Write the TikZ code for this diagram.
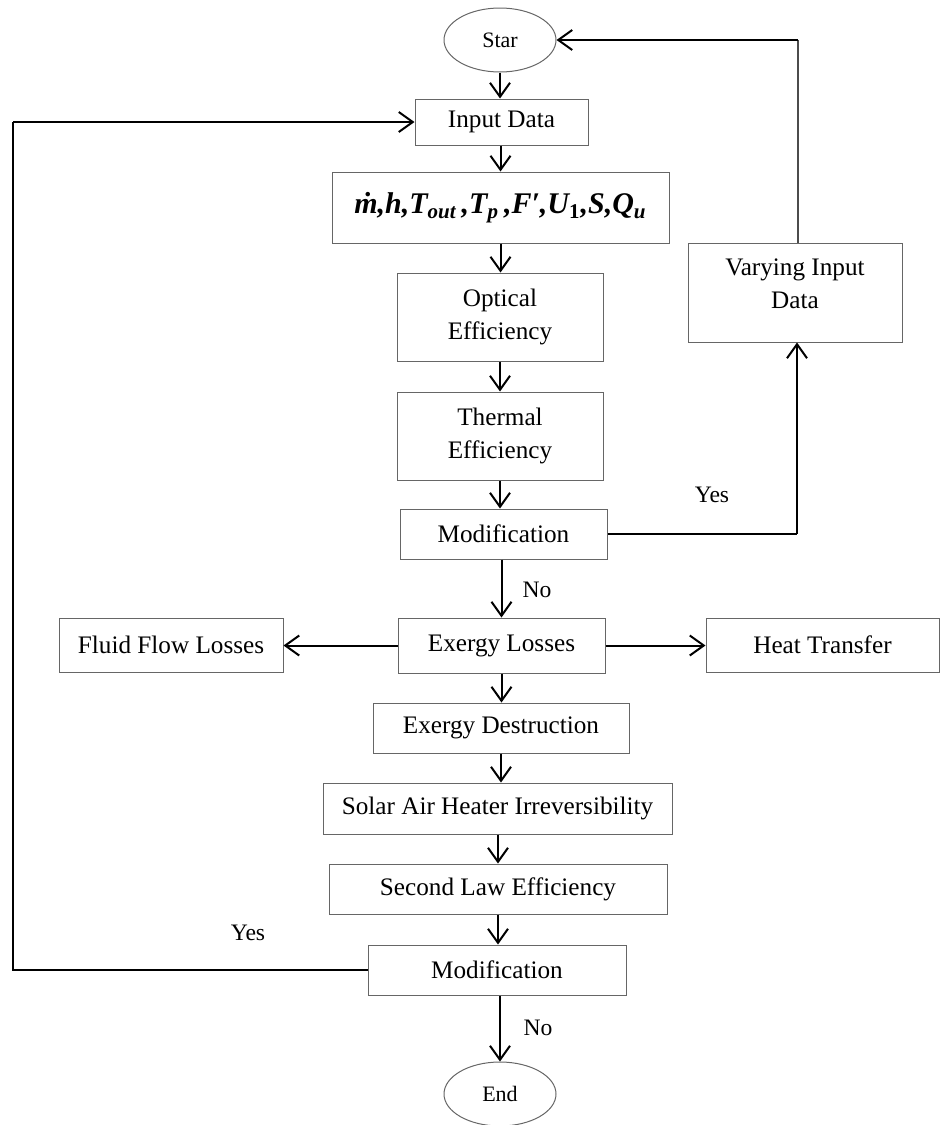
\documentclass[tikz,border=0pt]{standalone}
\usepackage{fontspec}
\setmainfont{Liberation Serif}
\usepackage{tikz}
\usetikzlibrary{shapes.geometric}
\usetikzlibrary{arrows.meta}

\tikzset{
  procbox/.style={draw=black!60, line width=0.5pt, inner sep=0pt, align=center,
    font=\fontsize{12.6}{16.5}\selectfont},
  terminal/.style={ellipse, draw=black!60, line width=0.5pt, inner sep=0pt,
    minimum width=56pt, minimum height=32pt, font=\fontsize{11}{13}\selectfont},
  note/.style={inner sep=0pt, font=\fontsize{11.8}{14}\selectfont},
  flow/.style={-{Straight Barb[length=7pt,width=10pt]}, line width=1pt},
  backline/.style={line width=0.6pt}
}

\begin{document}
\begin{tikzpicture}[x=0.5pt,y=-0.5pt]
\useasboundingbox (0,0) rectangle (940,1125);
% main column
\node (star) at (500,40) [terminal] {Star};
\node (input) at (501.5,122) [procbox,minimum width=86.5pt,minimum height=23pt] {Input Data};
\node (params) at (500.5,207.5) [procbox,minimum width=168.5pt,minimum height=35.5pt]
  {\fontsize{15}{18}\selectfont\bfseries\itshape \.{m},h,T\textsubscript{out}\,,T\textsubscript{p}\,,F′,U\textsubscript{\upshape 1},S,Q\textsubscript{u}};
\node (optical) at (500,317) [procbox,minimum width=103pt,minimum height=44pt] {Optical\\Efficiency};
\node (thermal) at (500,436) [procbox,minimum width=103pt,minimum height=44pt] {Thermal\\Efficiency};
\node (modA) at (503.5,534) [procbox,minimum width=103.5pt,minimum height=25pt] {Modification};
\node (varying) at (795,292.5) [procbox,minimum width=107pt,minimum height=49.5pt] {Varying Input\\Data\\[-8pt]};
\node (exergy) at (501.5,645.5) [procbox,minimum width=103.5pt,minimum height=27.5pt] {Exergy Losses};
\node (fluid) at (171,645) [procbox,minimum width=112pt,minimum height=27pt] {Fluid Flow Losses};
\node (heat) at (822.5,645) [procbox,minimum width=116.5pt,minimum height=27pt] {Heat Transfer};
\node (destruct) at (501,728) [procbox,minimum width=128pt,minimum height=25pt] {Exergy Destruction};
\node (solar) at (497.5,808.5) [procbox,minimum width=174.5pt,minimum height=25.5pt] {Solar Air Heater Irreversibility};
\node (second) at (498,889) [procbox,minimum width=169pt,minimum height=25pt] {Second Law Efficiency};
\node (modB) at (497,970) [procbox,minimum width=129pt,minimum height=25pt] {Modification};
\node (end) at (500,1094) [terminal] {End};
% decision labels
\node (yesA) at (712,495) [note] {Yes};
\node (noA) at (537,590) [note] {No};
\node (yesB) at (248,933) [note] {Yes};
\node (noB) at (538,1028) [note] {No};
% turning points
\coordinate (turnA) at (797,534);
\coordinate (turnB) at (798,40);
\coordinate (turnC) at (13,970);
\coordinate (turnD) at (13,122);

\draw[flow] (star.south) -- (star.south |- input.north);
\draw[flow] (input.south -| params.north) -- (params.north);
\draw[flow] (params.south) -- (params.south |- optical.north);
\draw[flow] (optical.south) -- (thermal.north);
\draw[flow] (thermal.south) -- (thermal.south |- modA.north);
\draw[flow] (modA.south -| exergy.north) -- (exergy.north);
\draw[flow] (exergy.west) -- (exergy.west -| fluid.east);
\draw[flow] (exergy.east) -- (exergy.east -| heat.west);
\draw[flow] (exergy.south) -- (exergy.south |- destruct.north);
\draw[flow] (destruct.south) -- (destruct.south |- solar.north);
\draw[flow] (solar.south -| second.north) -- (second.north);
\draw[flow] (second.south) -- (second.south |- modB.north);
\draw[flow] (modB.south -| end.north) -- (end.north);
% loops back
\draw[backline] (modA.east) -- (turnA);
\draw[flow] (turnA) -- (turnA |- varying.south);
\draw[backline,draw=black!70] (turnB |- varying.north) -- (turnB);
\draw[flow] (turnB) -- (star.east);
\draw[backline] (modB.west) -- (turnC) -- (turnD);
\draw[flow] (turnD) -- (input.west);
\end{tikzpicture}
\end{document}
